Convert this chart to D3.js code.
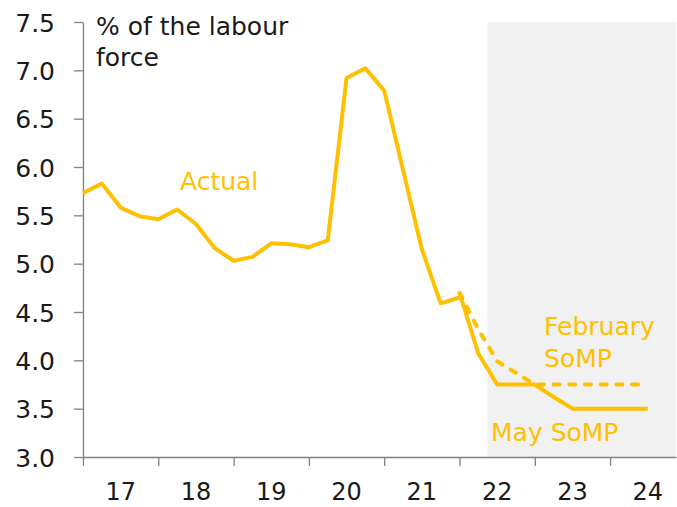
<!DOCTYPE html>
<meta charset="utf-8">
<style>
body { margin: 0; background: #fff; }
svg text { font-family: "DejaVu Sans", sans-serif; }
.axis path, .axis line { stroke: #808080; stroke-width: 1.3px; }
.axis text { fill: #1a1a1a; font-size: 25px; }
.line { fill: none; stroke: #FFC000; stroke-width: 4px; stroke-linejoin: round; }
.note { fill: #FFC000; font-size: 25px; }
</style>
<body>
<script src="https://d3js.org/d3.v7.min.js"></script>
<script>

// quarterly data, plotted at quarter end (decimal year)
var actualStart = 2017.0;   // Dec quarter 2016
var actual = [5.73, 5.83, 5.58, 5.49, 5.46, 5.56, 5.41, 5.16, 5.03, 5.07,
              5.21, 5.20, 5.17, 5.24, 6.92, 7.02, 6.79, 5.97, 5.15, 4.59, 4.65];

var forecastStart = 2022.0; // Dec quarter 2021
var maySoMP = [4.70, 4.07, 3.75, 3.75, 3.75, 3.62, 3.50, 3.50, 3.50, 3.50, 3.50];
var febSoMP = [4.70, 4.32, 3.99, 3.87, 3.75, 3.75, 3.75, 3.75, 3.75, 3.75, 3.75];

var years = [2017, 2018, 2019, 2020, 2021, 2022, 2023, 2024];
var yTicks = [3.0, 3.5, 4.0, 4.5, 5.0, 5.5, 6.0, 6.5, 7.0, 7.5];
var shadeFrom = 2022.37;

var margin = {top: 22, right: 1, bottom: 50, left: 83},
    width = 677 - margin.left - margin.right,
    height = 507 - margin.top - margin.bottom;

var svg = d3.select("body").append("svg")
    .attr("width", 677)
    .attr("height", 507)
  .append("g")
    .attr("transform", "translate(" + margin.left + "," + margin.top + ")");

var x = d3.scaleLinear()
    .domain([2017, 2024.875])
    .range([0, width]);

var y = d3.scaleLinear()
    .domain([3, 7.5])
    .range([height, 0]);

// forecast shading
svg.append("rect")
    .attr("x", x(shadeFrom))
    .attr("y", 0)
    .attr("width", x(2024.875) - x(shadeFrom))
    .attr("height", height)
    .style("fill", "#f1f1f1");

// axes
svg.append("g")
    .attr("class", "axis")
    .call(d3.axisLeft(y).tickValues(yTicks).tickSize(9).tickSizeOuter(0)
      .tickPadding(19).tickFormat(d3.format(".1f")))
    .selectAll("text").attr("dy", "0.36em");

var xAxis = svg.append("g")
    .attr("class", "axis")
    .attr("transform", "translate(0," + height + ")")
    .call(d3.axisBottom(x).tickValues(years).tickSize(9).tickSizeOuter(0)
      .tickFormat(""));

xAxis.selectAll(".yr")
    .data(years)
  .enter().append("text")
    .attr("class", "yr")
    .attr("x", function(d) { return x(d + 0.5); })
    .attr("y", 43)
    .attr("text-anchor", "middle")
    .style("font-size", "24px")
    .text(function(d) { return String(d).slice(2); });

// lines
function series(vals, start) {
  return vals.map(function(v, i) { return {t: start + i / 4, v: v}; });
}
var line = d3.line()
    .x(function(d) { return x(d.t); })
    .y(function(d) { return y(d.v); });

svg.append("path")
    .datum(series(actual, actualStart))
    .attr("class", "line")
    .attr("d", line);

svg.append("path")
    .datum(series(febSoMP, forecastStart))
    .attr("class", "line")
    .style("stroke-dasharray", "6,9.7")
    .style("stroke-linecap", "round")
    .attr("d", line);

svg.append("path")
    .datum(series(maySoMP, forecastStart))
    .attr("class", "line")
    .attr("d", line);

// labels
svg.append("text")
    .attr("x", 13).attr("y", 13)
    .style("font-size", "25px").style("fill", "#1a1a1a")
    .text("% of the labour");
svg.append("text")
    .attr("x", 13).attr("y", 44)
    .style("font-size", "25px").style("fill", "#1a1a1a")
    .text("force");

svg.append("text").attr("class", "note")
    .attr("x", 97).attr("y", 168).text("Actual");
svg.append("text").attr("class", "note")
    .attr("x", 461).attr("y", 313).text("February");
svg.append("text").attr("class", "note")
    .attr("x", 461).attr("y", 345).text("SoMP");
svg.append("text").attr("class", "note")
    .attr("x", 408).attr("y", 419).text("May SoMP");

</script>
</body>
